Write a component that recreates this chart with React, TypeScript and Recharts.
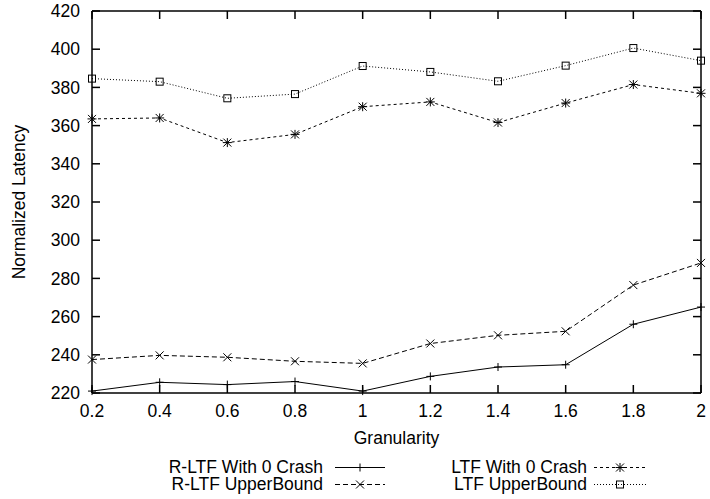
import { Legend, Line, LineChart, XAxis, YAxis } from "recharts";

const granularity = [0.2, 0.4, 0.6, 0.8, 1, 1.2, 1.4, 1.6, 1.8, 2];
const rltfCrash = [221.0, 225.6, 224.4, 226.0, 221.0, 228.7, 233.6, 234.8, 256.0, 265.0];
const rltfUpper = [237.5, 239.7, 238.7, 236.6, 235.5, 245.9, 250.2, 252.3, 276.5, 288.1];
const ltfCrash = [363.5, 364.0, 351.1, 355.4, 369.9, 372.4, 361.6, 371.8, 381.5, 376.9];
const ltfUpper = [384.6, 383.0, 374.3, 376.5, 391.2, 388.1, 383.2, 391.4, 400.6, 394.0];
const xTicks = [0.2, 0.4, 0.6, 0.8, 1, 1.2, 1.4, 1.6, 1.8, 2];
const yTicks = [220, 240, 260, 280, 300, 320, 340, 360, 380, 400, 420];

const FONT = '"Liberation Sans", Arial, Helvetica, sans-serif';
const FS = 17.5;

type Marker = "plus" | "cross" | "star" | "square";

const SERIES: { key: string; name: string; dash?: string; marker: Marker }[] = [
  { key: "rltfCrash", name: "R-LTF With 0 Crash", marker: "plus" },
  { key: "rltfUpper", name: "R-LTF UpperBound", dash: "5 3", marker: "cross" },
  { key: "ltfCrash", name: "LTF With 0 Crash", dash: "3 3", marker: "star" },
  { key: "ltfUpper", name: "LTF UpperBound", dash: "1 2", marker: "square" },
];

const data = granularity.map((g, i) => ({
  g,
  rltfCrash: rltfCrash[i],
  rltfUpper: rltfUpper[i],
  ltfCrash: ltfCrash[i],
  ltfUpper: ltfUpper[i],
}));

function markerShape(type: Marker, cx: number, cy: number, key?: string | number) {
  const s = { stroke: "#000", strokeWidth: 1, fill: "none" };
  if (type === "plus") {
    return (
      <g key={key}>
        <line x1={cx - 4} y1={cy} x2={cx + 4} y2={cy} {...s} />
        <line x1={cx} y1={cy - 4} x2={cx} y2={cy + 4} {...s} />
      </g>
    );
  }
  if (type === "cross") {
    return (
      <g key={key}>
        <line x1={cx - 4} y1={cy - 4} x2={cx + 4} y2={cy + 4} {...s} />
        <line x1={cx - 4} y1={cy + 4} x2={cx + 4} y2={cy - 4} {...s} />
      </g>
    );
  }
  if (type === "star") {
    return (
      <g key={key}>
        <line x1={cx - 4.5} y1={cy} x2={cx + 4.5} y2={cy} {...s} />
        <line x1={cx} y1={cy - 4.5} x2={cx} y2={cy + 4.5} {...s} />
        <line x1={cx - 4} y1={cy - 4} x2={cx + 4} y2={cy + 4} {...s} />
        <line x1={cx - 4} y1={cy + 4} x2={cx + 4} y2={cy - 4} {...s} />
      </g>
    );
  }
  return <rect key={key} x={cx - 3.5} y={cy - 3.5} width={7} height={7} {...s} />;
}

function LegendBox() {
  // two columns, text right-aligned before a line sample
  const cols = [
    { textRight: 323, x1: 335, x2: 385 },
    { textRight: 587, x1: 594, x2: 646 },
  ];
  const order = [
    [0, 0],
    [1, 0],
    [0, 1],
    [1, 1],
  ];
  return (
    <div style={{ position: "relative", width: 710, height: 40, fontFamily: FONT, fontSize: FS }}>
      {SERIES.map((s, i) => {
        const [row, col] = order[i];
        const c = cols[col];
        const top = row * 17;
        const mid = (c.x1 + c.x2) / 2;
        return (
          <div key={s.key}>
            <span
              style={{
                position: "absolute",
                right: 710 - c.textRight,
                top,
                lineHeight: "16px",
                whiteSpace: "nowrap",
                color: "#000",
              }}
            >
              {s.name}
            </span>
            <svg style={{ position: "absolute", left: 0, top }} width={710} height={17}>
              <line
                x1={c.x1}
                x2={c.x2}
                y1={8.5}
                y2={8.5}
                stroke="#000"
                strokeWidth={1}
                strokeDasharray={s.dash}
              />
              {markerShape(s.marker, mid, 8.5)}
            </svg>
          </div>
        );
      })}
    </div>
  );
}

export default function App() {
  return (
    <div style={{ position: "absolute", left: 0, top: 0, background: "#fff" }}>
      <LineChart
        width={710}
        height={499}
        data={data}
        margin={{ top: 10, right: 8, bottom: 0, left: 0 }}
      >
        <XAxis
          dataKey="g"
          type="number"
          domain={[0.2, 2]}
          ticks={xTicks}
          interval={0}
          height={66}
          tickSize={-8}
          tickMargin={20}
          stroke="#000"
          strokeWidth={1.5}
          tick={{ fill: "#000", fontSize: FS, fontFamily: FONT }}
          label={{
            value: "Granularity",
            position: "insideBottom",
            offset: 15,
            style: { fill: "#000", fontSize: FS, fontFamily: FONT },
          }}
        />
        <XAxis
          xAxisId="top"
          dataKey="g"
          orientation="top"
          type="number"
          domain={[0.2, 2]}
          ticks={xTicks}
          interval={0}
          height={1}
          tickSize={-8}
          tickFormatter={() => ""}
          stroke="#000"
          strokeWidth={1.5}
        />
        <YAxis
          type="number"
          domain={[220, 420]}
          ticks={yTicks}
          interval={0}
          width={92}
          tickSize={-8}
          tickMargin={20}
          stroke="#000"
          strokeWidth={1.5}
          tick={{ fill: "#000", fontSize: FS, fontFamily: FONT }}
          label={{
            value: "Normalized Latency",
            content: ({ viewBox }: any) => {
              const x = viewBox.x + 19;
              const y = viewBox.y + viewBox.height / 2;
              return (
                <text
                  x={x}
                  y={y}
                  transform={`rotate(-90 ${x} ${y})`}
                  textAnchor="middle"
                  dominantBaseline="central"
                  fill="#000"
                  fontSize={FS}
                  fontFamily={FONT}
                >
                  Normalized Latency
                </text>
              );
            },
          }}
        />
        <YAxis
          yAxisId="right"
          orientation="right"
          type="number"
          domain={[220, 420]}
          ticks={yTicks}
          interval={0}
          width={1}
          tickSize={-8}
          tickFormatter={() => ""}
          stroke="#000"
          strokeWidth={1.5}
        />
        <Legend verticalAlign="bottom" height={40} content={() => <LegendBox />} />
        {/* invisible copy so the mirrored top/right axes get a domain */}
        <Line
          xAxisId="top"
          yAxisId="right"
          dataKey="ltfUpper"
          stroke="none"
          dot={false}
          activeDot={false}
          legendType="none"
          isAnimationActive={false}
        />
        {SERIES.map((s) => (
          <Line
            key={s.key}
            dataKey={s.key}
            name={s.name}
            type="linear"
            stroke="#000"
            strokeWidth={1}
            strokeDasharray={s.dash}
            dot={(p: any) => markerShape(s.marker, p.cx, p.cy, `${s.key}-${p.index}`)}
            activeDot={false}
            isAnimationActive={false}
          />
        ))}
      </LineChart>
    </div>
  );
}
